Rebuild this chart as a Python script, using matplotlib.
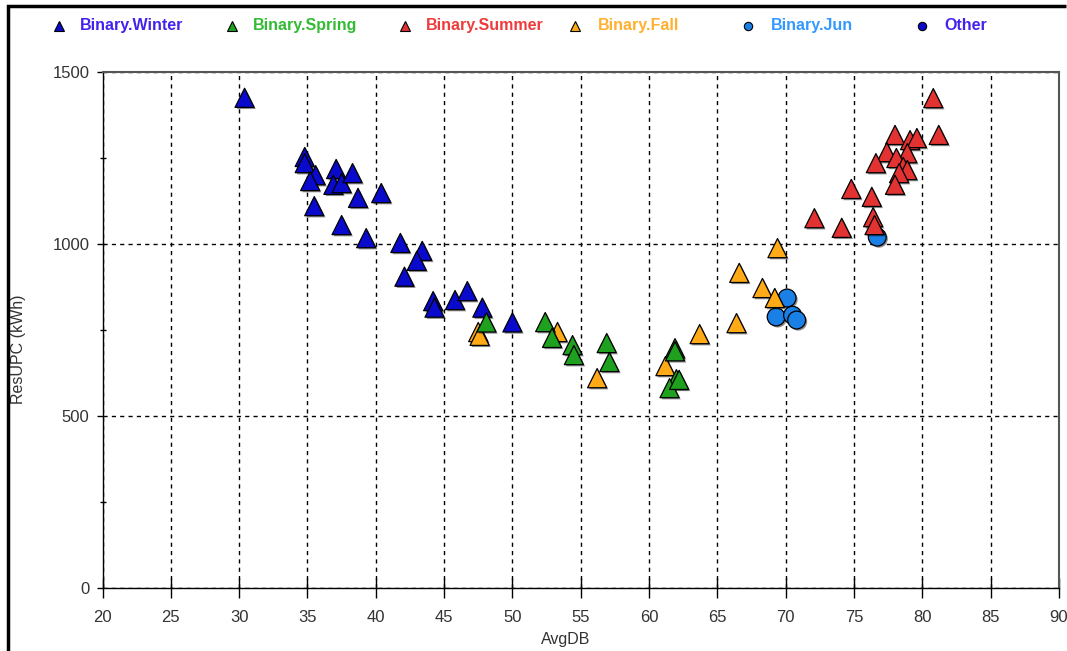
"""
Scatter of residential use per customer against average dry-bulb temperature,
coloured by the binary season flag.

Writes out.png.
"""

import matplotlib
matplotlib.use("Agg")
import matplotlib.pyplot as plt
import matplotlib.patheffects as pe
from matplotlib.lines import Line2D
from matplotlib.ticker import MultipleLocator

plt.rcParams["font.family"] = ["Liberation Sans", "DejaVu Sans"]

# AvgDB (deg F) / ResUPC (kWh) per season flag
winter_x = [30.4, 34.8, 34.8, 35.6, 35.2, 35.5, 37.1, 36.9, 37.5, 38.3, 38.7, 40.4,
            37.5, 39.3, 41.8, 43.4, 43.0, 42.1, 44.2, 44.3, 45.8, 46.7, 47.8, 50.0]
winter_y = [1425, 1253, 1235, 1200, 1183, 1110, 1218, 1172, 1177, 1206, 1134, 1148,
            1055, 1017, 1003, 980, 951, 905, 834, 815, 837, 863, 815, 772]

spring_x = [48.1, 52.4, 52.9, 54.4, 54.5, 56.9, 57.1, 61.9, 61.9, 62.0, 61.5, 62.2]
spring_y = [772, 773, 727, 706, 677, 712, 657, 697, 688, 607, 581, 605]

summer_x = [80.8, 81.2, 78.0, 79.1, 79.6, 77.4, 78.9, 78.1, 76.6, 78.6, 78.9, 78.3,
            78.0, 74.8, 76.3, 72.1, 74.1, 76.4, 76.5]
summer_y = [1424, 1317, 1317, 1302, 1308, 1267, 1264, 1250, 1235, 1224, 1215, 1206,
            1172, 1160, 1137, 1075, 1047, 1078, 1055]

fall_x = [47.5, 47.6, 53.3, 56.2, 61.2, 63.7, 66.4, 66.6, 68.3, 69.2, 69.4]
fall_y = [744, 733, 744, 610, 645, 738, 770, 916, 872, 843, 988]

jun_x = [76.7, 70.1, 69.3, 70.5, 70.8]
jun_y = [1020, 843, 788, 793, 779]

other_x = []
other_y = []

# name, x, y, marker, fill, label colour, zorder
SERIES = [
    ("Binary.Winter", winter_x, winter_y, "^", "#0a0acc", "#4422ee", 3),
    ("Binary.Spring", spring_x, spring_y, "^", "#1fa01f", "#33bb33", 5),
    ("Binary.Summer", summer_x, summer_y, "^", "#e33232", "#ee3b3b", 6),
    ("Binary.Fall", fall_x, fall_y, "^", "#ffaa16", "#ffb030", 4),
    ("Binary.Jun", jun_x, jun_y, "o", "#1a80e6", "#3399ff", 2),
    ("Other", other_x, other_y, "o", "#0a0acc", "#4422ee", 2),
]

W, H = 1067, 651


def draw_legend(fig):
    """Legend row across the top, evenly spaced like the old chart control."""
    marker_px = [59, 232, 405, 575, 748, 922]
    text_px = [80, 253, 426, 598, 771, 944]
    y = 1 - 25.5 / H
    for (name, _, _, marker, fill, tcol, _), mx, tx in zip(SERIES, marker_px, text_px):
        ms = 7 if marker == "^" else 6
        fig.add_artist(Line2D([mx / W], [y], transform=fig.transFigure,
                              marker=marker, ms=ms, mfc=fill, mec="black", mew=0.8,
                              ls="none"))
        fig.text(tx / W, y, name, color=tcol, fontsize=11.5, fontweight="bold",
                 ha="left", va="center")


def main():
    fig = plt.figure(figsize=(W / 100, H / 100), dpi=100)
    ax = fig.add_axes([102.5 / W, (H - 588) / H, (1059 - 102.5) / W, (588 - 72) / H])

    shadow = [pe.SimplePatchShadow(offset=(1.2, -1.2), shadow_rgbFace="black", alpha=0.45),
              pe.Normal()]
    for name, xs, ys, marker, fill, _, z in SERIES:
        if not xs:
            continue
        size = 190 if marker == "^" else 165
        sc = ax.scatter(xs, ys, s=size, marker=marker, c=fill, edgecolors="black",
                        linewidths=0.9, zorder=z)
        sc.set_path_effects(shadow)

    ax.set_xlim(20, 90)
    ax.set_ylim(0, 1500)
    ax.xaxis.set_major_locator(MultipleLocator(5))
    ax.yaxis.set_major_locator(MultipleLocator(500))
    ax.yaxis.set_minor_locator(MultipleLocator(250))

    ax.grid(True, which="major", color="black", ls=(0, (3, 3)), lw=1)
    ax.set_axisbelow(True)

    ax.tick_params(axis="x", direction="inout", length=14, width=1, pad=9,
                   labelsize=12, labelcolor="#333333")
    ax.tick_params(axis="y", which="major", direction="out", length=4.5, width=1, pad=5,
                   labelsize=12, labelcolor="#333333")
    ax.tick_params(axis="y", which="minor", direction="inout", length=5, width=1)

    for side in ("left", "bottom"):
        ax.spines[side].set_color("black")
        ax.spines[side].set_linewidth(1)
    for side in ("top", "right"):
        ax.spines[side].set_color("#555555")
        ax.spines[side].set_linewidth(1.5)

    ax.set_xlabel("AvgDB", fontsize=11.5, color="#333333", va="center")
    ax.xaxis.set_label_coords(0.484, -0.10)
    ax.set_ylabel("ResUPC (kWh)", fontsize=11.5, color="#333333", va="center")
    ax.yaxis.set_label_coords(-0.088, 0.463)

    draw_legend(fig)

    # outer frame of the chart control (only left and top edges fall inside the image)
    fx, fy = 8 / W, 1 - 6 / H
    fig.add_artist(Line2D([fx, fx, 0.9995], [0.0, fy, fy], transform=fig.transFigure,
                          color="black", lw=2.5, solid_joinstyle="miter",
                          solid_capstyle="butt"))

    fig.savefig("out.png", dpi=100)
    plt.close(fig)


if __name__ == "__main__":
    main()
